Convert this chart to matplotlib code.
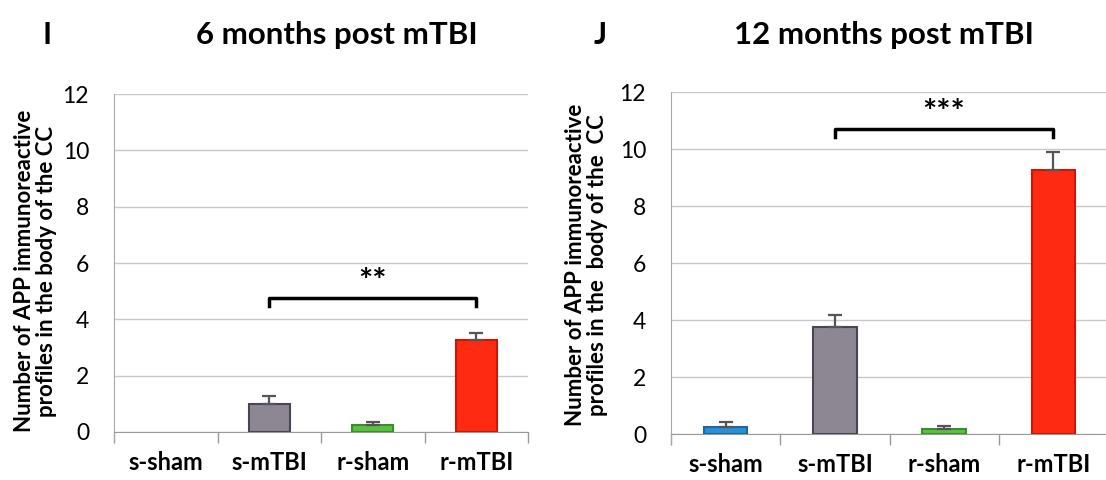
import matplotlib
matplotlib.use("Agg")
import matplotlib.pyplot as plt
import numpy as np

plt.rcParams['font.family'] = ['Lato', 'DejaVu Sans']

categories = ["s-sham", "s-mTBI", "r-sham", "r-mTBI"]
colors = ["#2a8fd4", "#8c8792", "#5cc040", "#ff2a12"]
edges = ["#1a6aa0", "#4a4550", "#3a9028", "#c81808"]

means_6 = [0.0, 1.0, 0.25, 3.27]
err_6 = [0.0, 0.29, 0.12, 0.25]
means_12 = [0.26, 3.77, 0.17, 9.26]
err_12 = [0.15, 0.41, 0.12, 0.64]

sig_6 = (1, 3, 4.76, "**")
sig_12 = (1, 3, 10.70, "***")

yticks = [0, 2, 4, 6, 8, 10, 12]
ylabel = "Number of APP immunoreactive\nprofiles in the body of the CC"
ylabel_12 = "Number of APP immunoreactive\nprofiles in the  body of the  CC"

fig = plt.figure(figsize=(11.06, 4.80), dpi=100)

def panel(rect, means, errs, sig, lab, labx, laby):
    ax = fig.add_axes(rect)
    x = np.arange(len(categories))
    for i in range(len(categories)):
        if means[i] > 0:
            ax.bar(x[i], means[i], width=0.4, color=colors[i], edgecolor=edges[i],
                   linewidth=1.5, zorder=3)
            ax.errorbar(x[i], means[i], yerr=[[0], [errs[i]]], fmt='none',
                        ecolor="#555555", elinewidth=1.6, capsize=5, capthick=1.6, zorder=4)
    ax.set_xlim(-0.5, 3.5)
    ax.set_ylim(0, 12)
    ax.set_yticks(yticks)
    ax.set_yticklabels([str(t) for t in yticks], fontsize=16.5)
    ax.tick_params(axis='y', length=0, pad=18)
    ax.set_xticks(x)
    ax.set_xticklabels(categories, fontsize=17, fontweight='bold')
    ax.tick_params(axis='x', length=0, pad=14)
    ax.set_xticks(np.arange(-0.5, 4.0, 1.0), minor=True)
    ax.tick_params(axis='x', which='minor', length=8, color="#999999", width=1)
    ax.grid(axis='y', color="#c8c8c8", linewidth=1.0, zorder=0)
    for s in ['top', 'right']:
        ax.spines[s].set_visible(False)
    ax.spines['left'].set_color("#aaaaaa")
    ax.spines['bottom'].set_color("#999999")
    ax.spines['left'].set_bounds(-0.3, 12)
    ax.set_ylabel(lab, fontsize=16, fontweight='bold', linespacing=1.05)
    ax.yaxis.set_label_coords(labx, laby)
    a, b, h, star = sig
    dh = 0.28
    ax.plot([a, a, b, b], [h - dh, h, h, h - dh], color="black", linewidth=2.5,
            zorder=5, clip_on=False)
    ax.text((a + b) / 2, h + 0.55, star, ha='center', va='center', fontsize=24,
            fontweight='bold')
    return ax

ax1 = panel([0.1031, 0.1, 0.3743, 0.704], means_6, err_6, sig_6, ylabel, -0.138, 0.476)
ax2 = panel([0.6067, 0.0958, 0.3951, 0.7125], means_12, err_12, sig_12, ylabel_12, -0.144, 0.494)

fig.text(47 / 1106, 1 - 35 / 480, "I", fontsize=22, fontweight='bold', ha='center', va='center')
fig.text(337 / 1106, 1 - 35 / 480, "6 months post mTBI", fontsize=22.5, fontweight='bold',
         ha='center', va='center')
fig.text(600 / 1106, 1 - 35 / 480, "J", fontsize=22, fontweight='bold', ha='center', va='center')
fig.text(884 / 1106, 1 - 35 / 480, "12 months post mTBI", fontsize=22.5, fontweight='bold',
         ha='center', va='center')

fig.savefig("out.png", dpi=100)
